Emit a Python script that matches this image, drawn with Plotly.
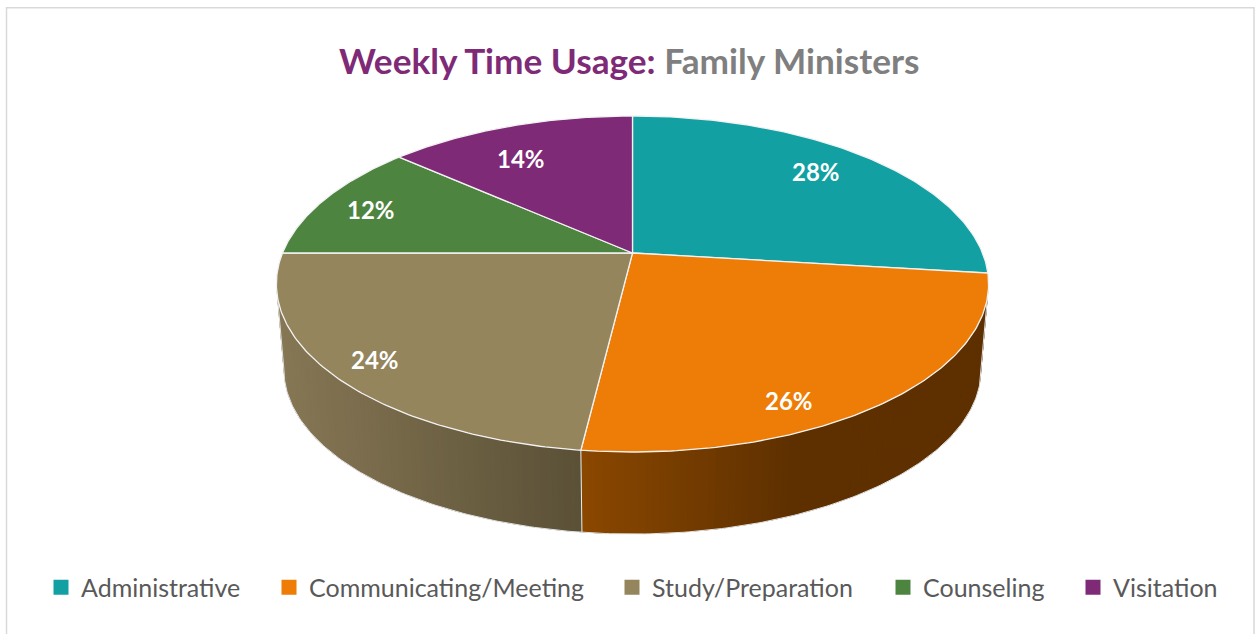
import numpy as np
import plotly.graph_objects as go

categories = ["Administrative", "Communicating/Meeting", "Study/Preparation", "Counseling", "Visitation"]
values = [28, 26, 24, 12, 14]
top_colors = ["#12A0A2", "#EE7D07", "#94855D", "#4D8440", "#7F2A77"]
label_shifts = [(4, -8), (-25, 40), (-41, 18), (-28, -2), (-16, 4)]
legend_x = [41, 269, 612, 883, 1073]

CX, CY, A, B, K = 632.5, 253.0, 350.0, 162.3, 0.1845
BOTTOM_CY, BOTTOM_SCALE = 339.2, 0.979
ORANGE_DARK, ORANGE_LIGHT = (94, 48, 0), (139, 72, 0)
STUDY_DARK, STUDY_LIGHT = (90, 80, 54), (133, 118, 84)


def project(theta, r=1.0, cy=CY, s=1.0):
    u, v = np.sin(theta) * r, np.cos(theta) * r
    d = 1 + K * v
    return CX + s * A * u / d, cy - s * B * v / d


shares = np.array(values, dtype=float) / sum(values)
edges = np.concatenate([[0], np.cumsum(shares)]) * 2 * np.pi
RIGHT_EXT = np.arccos(-K)
LEFT_EXT = 2 * np.pi - RIGHT_EXT

fig = go.Figure()


def poly(x, y, fill, line=None, width=0):
    fig.add_trace(go.Scatter(
        x=x, y=y, mode="lines", fill="toself", fillcolor=fill,
        line=dict(color=line or fill, width=width),
        hoverinfo="skip", showlegend=False))


# side walls, split into narrow strips for the left-to-right shading
seam_x = project(edges[2])[0]
n = 90
# orange wall: painted from the right so each strip overlaps the previous one
th = np.linspace(RIGHT_EXT, edges[2], n + 1)
for j in range(n):
    t = th[j:j + 3]
    xt, yt = project(t)
    xb_, yb_ = project(t, cy=BOTTOM_CY, s=BOTTOM_SCALE)
    f = np.clip((xt[0] - seam_x) / 215.0, 0, 1)
    col = [int(round(p + (q - p) * f)) for p, q in zip(ORANGE_LIGHT, ORANGE_DARK)]
    poly(np.r_[xt, xb_[::-1], xt[0]], np.r_[yt, yb_[::-1], yt[0]], "rgb(%d,%d,%d)" % tuple(col))
# study wall: painted from the left
th = np.linspace(LEFT_EXT, edges[2], n + 1)
for j in range(n):
    t = th[j:j + 3]
    xt, yt = project(t)
    xb_, yb_ = project(t, cy=BOTTOM_CY, s=BOTTOM_SCALE)
    f = np.clip((seam_x - xt[0]) / (seam_x - 285.0), 0, 1)
    col = [int(round(p + (q - p) * f)) for p, q in zip(STUDY_DARK, STUDY_LIGHT)]
    poly(np.r_[xt, xb_[::-1], xt[0]], np.r_[yt, yb_[::-1], yt[0]], "rgb(%d,%d,%d)" % tuple(col))

# outer edge of the walls and the seam between them
th = np.linspace(RIGHT_EXT, LEFT_EXT, 240)
bx, by = project(th, cy=BOTTOM_CY, s=BOTTOM_SCALE)
rx0, ry0 = project(RIGHT_EXT)
lx0, ly0 = project(LEFT_EXT)
fig.add_trace(go.Scatter(x=np.r_[rx0, bx, lx0], y=np.r_[ry0, by, ly0], mode="lines",
                         line=dict(color="#E4E4E4", width=1), hoverinfo="skip", showlegend=False))
sx0, sy0 = project(edges[2])
sx1, sy1 = project(edges[2], cy=BOTTOM_CY, s=BOTTOM_SCALE)
fig.add_trace(go.Scatter(x=[sx0, sx1], y=[sy0, sy1], mode="lines", line=dict(color="#EDEDED", width=1),
                         hoverinfo="skip", showlegend=False))

# top face slices
for i in range(len(values)):
    th = np.linspace(edges[i], edges[i + 1], 120)
    x, y = project(th)
    poly(np.r_[CX, x, CX], np.r_[CY, y, CY], top_colors[i], line="#F2F2F2", width=1.3)

# legend: one single-entry legend per category so that each sits where it should
layout_legends = {}
for i, name in enumerate(categories):
    key = "legend" if i == 0 else "legend%d" % (i + 1)
    fig.add_trace(go.Scatter(
        x=[None], y=[None], mode="markers", name=name, legend=key,
        marker=dict(symbol="square", size=15, color=top_colors[i])))
    layout_legends[key] = dict(
        x=legend_x[i] / 1255, y=1 - 564.5 / 634, xanchor="left", yanchor="top",
        orientation="h", bgcolor="rgba(0,0,0,0)", borderwidth=0, itemclick=False, itemdoubleclick=False,
        font=dict(family="Lato", size=25, color="#595959"))

# data labels
annots = []
for i, v in enumerate(values):
    x, y = project((edges[i] + edges[i + 1]) / 2, r=0.75)
    annots.append(dict(x=x, y=y, xref="x", yref="y", text="<b>%d%%</b>" % v, showarrow=False,
                       xshift=label_shifts[i][0], yshift=-label_shifts[i][1],
                       font=dict(family="Lato", size=24, color="white")))

annots.append(dict(
    x=629 / 1255, y=1 - 60 / 634, xref="paper", yref="paper", showarrow=False, xanchor="center", yanchor="middle",
    text="<b><span style='color:#7F2A77'>Weekly Time Usage:</span> <span style='color:#7F7F7F'>Family Ministers</span></b>",
    font=dict(family="Lato", size=35.2)))

fig.update_layout(
    width=1255, height=634, margin=dict(l=0, r=0, t=0, b=0), autosize=False,
    paper_bgcolor="white", plot_bgcolor="white",
    xaxis=dict(range=[0, 1255], visible=False, fixedrange=True),
    yaxis=dict(range=[634, 0], visible=False, fixedrange=True),
    annotations=annots,
    shapes=[dict(type="rect", xref="paper", yref="paper", x0=6.5 / 1255, x1=1254 / 1255,
                 y0=-0.02, y1=1 - 7.7 / 634, line=dict(color="#D9D9D9", width=1.5), layer="below")],
    **layout_legends)
fig.write_html("out.html", config={"displayModeBar": False},
               post_script="document.body.style.margin='0';document.body.style.overflow='hidden';")
